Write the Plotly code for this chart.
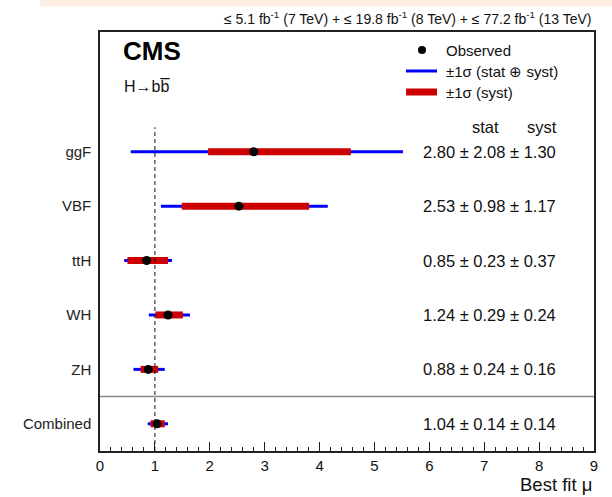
import plotly.graph_objects as go

categories = ["ggF", "VBF", "ttH", "WH", "ZH", "Combined"]
rows = [6, 5, 4, 3, 2, 1]
mu = [2.80, 2.53, 0.85, 1.24, 0.88, 1.04]
stat = [2.08, 0.98, 0.23, 0.29, 0.24, 0.14]
syst = [1.30, 1.17, 0.37, 0.24, 0.16, 0.14]
# interval ends as drawn
tot_lo = [0.56, 1.11, 0.44, 0.89, 0.61, 0.87]
tot_hi = [5.52, 4.15, 1.31, 1.64, 1.18, 1.24]
sys_lo = [1.97, 1.49, 0.50, 1.01, 0.74, 0.92]
sys_hi = [4.57, 3.81, 1.24, 1.51, 1.06, 1.18]
x_ticks = [0, 1, 2, 3, 4, 5, 6, 7, 8, 9]

FONT = "Liberation Sans, Arial, sans-serif"
BLUE = "#0000ff"
RED = "#cc0000"
TXT = "#111"

fig = go.Figure()

for i in range(len(categories)):
    fig.add_trace(go.Scatter(x=[tot_lo[i], tot_hi[i]], y=[rows[i], rows[i]], mode="lines",
                             line=dict(color=BLUE, width=3), showlegend=False, hoverinfo="skip"))
for i in range(len(categories)):
    fig.add_trace(go.Scatter(x=[sys_lo[i], sys_hi[i]], y=[rows[i], rows[i]], mode="lines",
                             line=dict(color=RED, width=7), showlegend=False, hoverinfo="skip"))
fig.add_trace(go.Scatter(x=mu, y=rows, mode="markers", marker=dict(color="black", size=9),
                         showlegend=False, hoverinfo="skip"))

shapes = []
shapes.append(dict(type="line", xref="x", yref="y", x0=1, x1=1, y0=0.5, y1=6.45,
                   line=dict(color="#111", width=1, dash="4px,3px")))
shapes.append(dict(type="line", xref="x", yref="y", x0=0, x1=9, y0=1.5, y1=1.5,
                   line=dict(color="#888", width=1.5)))
shapes.append(dict(type="rect", xref="paper", yref="paper", x0=-0.1215, x1=1.04, y0=1.0608, y1=1.08,
                   fillcolor="#fdede2", line=dict(width=0), layer="below"))

def px(xp):
    return (xp - 100) / 494

def py(yp):
    return (451 - yp) / 419

shapes.append(dict(type="circle", xref="paper", yref="paper", x0=px(418), x1=px(426), y0=py(54), y1=py(46),
                   fillcolor="black", line=dict(width=0)))
shapes.append(dict(type="line", xref="paper", yref="paper", x0=px(406), x1=px(437), y0=py(71), y1=py(71),
                   line=dict(color=BLUE, width=3)))
shapes.append(dict(type="line", xref="paper", yref="paper", x0=px(406), x1=px(437), y0=py(92), y1=py(92),
                   line=dict(color=RED, width=7)))

annotations = []
for label, yy in [("Observed", 50), ("±1σ (stat ⊕ syst)", 71), ("±1σ (syst)", 92)]:
    annotations.append(dict(xref="paper", yref="paper", x=px(444), y=py(yy), text=label, showarrow=False,
                            xanchor="left", yanchor="middle", font=dict(family=FONT, size=15, color=TXT)))
annotations.append(dict(xref="paper", yref="paper", x=px(485), y=py(127), text="stat", showarrow=False,
                        xanchor="center", yanchor="middle", font=dict(family=FONT, size=16.5, color=TXT)))
annotations.append(dict(xref="paper", yref="paper", x=px(542), y=py(127), text="syst", showarrow=False,
                        xanchor="center", yanchor="middle", font=dict(family=FONT, size=16.5, color=TXT)))
for i in range(len(categories)):
    annotations.append(dict(xref="paper", yref="y", x=px(558), y=rows[i],
                            text=f"{mu[i]:.2f} ± {stat[i]:.2f} ± {syst[i]:.2f}", showarrow=False,
                            xanchor="right", yanchor="middle", font=dict(family=FONT, size=16.5, color=TXT)))
annotations.append(dict(xref="paper", yref="paper", x=px(121), y=py(51), text="<b>CMS</b>", showarrow=False,
                        xanchor="left", yanchor="middle", font=dict(family=FONT, size=26, color="black")))
annotations.append(dict(xref="paper", yref="paper", x=px(122), y=py(87), text="H→bb\u0305", showarrow=False,
                        xanchor="left", yanchor="middle", font=dict(family=FONT, size=16, color=TXT)))
annotations.append(dict(xref="paper", yref="paper", x=1.0, y=py(18),
                        text="≤ 5.1 fb<sup>-1</sup> (7 TeV) + ≤ 19.8 fb<sup>-1</sup> (8 TeV) + ≤ 77.2 fb<sup>-1</sup> (13 TeV)",
                        showarrow=False, xanchor="right", yanchor="middle",
                        font=dict(family=FONT, size=14, color=TXT)))
annotations.append(dict(xref="paper", yref="paper", x=1.0, y=py(497), text="Best fit μ", showarrow=False,
                        xanchor="right", yanchor="bottom", font=dict(family=FONT, size=18.5, color=TXT)))

fig.update_layout(
    width=612, height=497,
    margin=dict(l=100, r=18, t=32, b=46),
    paper_bgcolor="white", plot_bgcolor="white",
    shapes=shapes, annotations=annotations,
    showlegend=False,
    xaxis=dict(range=[0, 9], tickvals=x_ticks, ticktext=[str(v) for v in x_ticks],
               ticks="inside", ticklen=9, tickwidth=1, tickcolor="#222",
               minor=dict(dtick=0.2, ticks="inside", ticklen=4, tickcolor="#222"),
               showgrid=False, zeroline=False, showline=True, linecolor="#222", linewidth=1.5,
               mirror=True, tickfont=dict(family=FONT, size=15, color=TXT)),
    yaxis=dict(range=[0.5, 8.2], tickvals=rows, ticktext=categories, ticks="",
               showgrid=False, zeroline=False, showline=True, linecolor="#222", linewidth=1.5,
               mirror=True, tickfont=dict(family=FONT, size=15, color="#222"), ticklabelstandoff=4),
)

fig.write_html("out.html")
